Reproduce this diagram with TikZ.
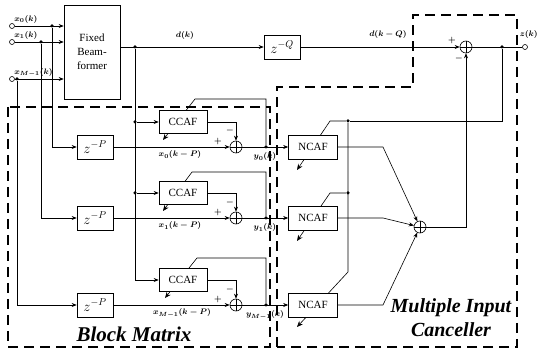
\documentclass[tikz,border=0pt]{standalone}
\usepackage{fontspec}
\setmainfont{Liberation Serif}
\usetikzlibrary{arrows.meta, backgrounds}

\begin{document}
\begin{tikzpicture}[
  x=1pt, y=-1pt,
  line width=0.6pt,
  font=\fontsize{11}{13}\selectfont,
  blk/.style={draw, fill=white, minimum width=48pt, minimum height=23pt, inner sep=0pt},
  dly/.style={draw, fill=white, minimum width=36pt, minimum height=24pt, inner sep=0pt, font=\fontsize{14}{14}\selectfont},
  sum/.style={circle, draw, fill=white, minimum size=12pt, inner sep=0pt,
    path picture={\draw (path picture bounding box.north) -- (path picture bounding box.south)
                        (path picture bounding box.west) -- (path picture bounding box.east);}},
  dot/.style={circle, fill, inner sep=0pt, minimum size=3.5pt},
  term/.style={circle, draw, fill=white, inner sep=0pt, minimum size=5pt},
  arr/.style={-{Stealth[length=5pt, width=4pt]}},
  adapt/.style={line width=0.6pt, -{Stealth[length=6pt, width=5pt]}},
  region/.style={dash pattern=on 10pt off 6pt, line width=2pt},
  lbl/.style={font=\fontsize{8}{8}\selectfont\boldmath, inner sep=1pt},
  sgn/.style={font=\fontsize{8}{8}\selectfont\boldmath, inner sep=0pt},
  title/.style={font=\fontsize{21}{24}\selectfont\bfseries\itshape, align=center, inner sep=0pt}
]
\useasboundingbox (0,0) rectangle (539,355);

% inputs and beamformer
\node[term] (in0) at (12,26) {};
\node[term] (in1) at (12,42) {};
\node[term] (in2) at (12,79) {};
\node[lbl, anchor=south west] (lx0) at (13,25) {$x_0(k)$};
\node[lbl, anchor=south west] (lx1) at (13,41) {$x_1(k)$};
\node[lbl, anchor=south west] (lx2) at (13,78) {$x_{M-1}(k)$};
\node[draw, fill=white, minimum width=56pt, minimum height=94pt, align=center,
      font=\fontsize{11}{14}\selectfont] (fbf) at (92,52) {Fixed\\Beam-\\former};
\node[dly] (zq) at (282,47) {$z^{-Q}$};
\node[dly] (zp0) at (95,147) {$z^{-P}$};
\node[dly] (zp1) at (95,218) {$z^{-P}$};
\node[dly] (zp2) at (95,305) {$z^{-P}$};

% block matrix
\node[blk] (ccaf0) at (183,122) {CCAF};
\node[blk] (ccaf1) at (183,193) {CCAF};
\node[blk] (ccaf2) at (183,280) {CCAF};
\node[sum] (s0) at (236,147) {};
\node[sum] (s1) at (236,218) {};
\node[sum] (s2) at (236,305) {};

% canceller
\node[blk, minimum width=49pt, minimum height=24pt] (ncaf0) at (313,147) {NCAF};
\node[blk, minimum width=49pt, minimum height=24pt] (ncaf1) at (313,218) {NCAF};
\node[blk, minimum width=49pt, minimum height=24pt] (ncaf2) at (313,305) {NCAF};
\node[sum] (ns) at (420,227) {};
\node[sum] (fs) at (466,47) {};
\node[term] (out) at (525,47) {};

% taps
\node[dot] (t0) at (52,26) {};
\node[dot] (t1) at (41,42) {};
\node[dot] (t2) at (17,79) {};
\node[dot] (td) at (135,47) {};
\node[dot] (ct0) at (135,122) {};
\node[dot] (ct1) at (135,193) {};
\coordinate (ct2) at (135,280);
\node[dot] (y0) at (266,147) {};
\node[dot] (y1) at (266,218) {};
\node[dot] (y2) at (266,305) {};
\node[dot] (e0) at (348,121) {};
\node[dot] (e1) at (348,193) {};
\node[dot] (zt) at (502,47) {};
\coordinate (fo) at (fbf.east |- td);
\coordinate (f0) at (195,99);
\coordinate (f1) at (192,172);
\coordinate (f2) at (197,258);
\coordinate (a0) at (163,140);
\coordinate (a1) at (163,211);
\coordinate (a2) at (165,298);
\coordinate (g0) at (330,121);
\coordinate (g1) at (330,193);
\coordinate (g2) at (348,272);
\coordinate (b0) at (297,170);
\coordinate (b1) at (297,241);
\coordinate (b2) at (297,327);
\coordinate (k0) at (383,147);
\coordinate (k1) at (383,218);
\coordinate (k2) at (383,305);

% labels
\node[lbl] (ld) at (185,36) {$d(k)$};
\node[lbl] (ldq) at (388,35) {$d(k-Q)$};
\node[lbl, anchor=east] (lz) at (539,35) {$z(k)$};
\node[lbl] (lxp0) at (180,155) {$x_0(k-P)$};
\node[lbl] (lxp1) at (180,226) {$x_1(k-P)$};
\node[lbl] (lxp2) at (182,313) {$x_{M-1}(k-P)$};
\node[lbl] (ly0) at (265,157) {$y_0(k)$};
\node[lbl] (ly1) at (265,228) {$y_1(k)$};
\node[lbl] (ly2) at (265,315) {$y_{M-1}(k)$};
\node[sgn] (p0) at (218,142) {$+$};
\node[sgn] (p1) at (218,213) {$+$};
\node[sgn] (p2) at (218,300) {$+$};
\node[sgn] (m0) at (230,131) {$-$};
\node[sgn] (m1) at (230,203) {$-$};
\node[sgn] (m2) at (230,290) {$-$};
\node[sgn] (pf) at (452,41) {$+$};
\node[sgn] (mf) at (459,59) {$-$};
\node[title] (bm) at (134,334) {Block Matrix};
\node[title, font=\fontsize{20}{24}\selectfont\bfseries\itshape] (mic) at (451,318) {Multiple Input\\Canceller};

% signal paths
\draw[arr] (in0) -- (in0 -| fbf.west);
\draw[arr] (in1) -- (in1 -| fbf.west);
\draw[arr] (in2) -- (in2 -| fbf.west);
\draw[arr] (t0) |- (zp0);
\draw[arr] (t1) |- (zp1);
\draw[arr] (t2) |- (zp2);
\draw[arr] (fo) -- (zq);
\draw[arr] (zq) -- (fs);
\draw (fs) -- (out);
\draw (td) -- (ct2);
\draw[arr] (ct0) -- (ccaf0);
\draw[arr] (ct1) -- (ccaf1);
\draw[arr] (ct2) -- (ccaf2);
\draw[arr] (zp0) -- (s0);
\draw[arr] (zp1) -- (s1);
\draw[arr] (zp2) -- (s2);
\draw[arr] (ccaf0) -| (s0);
\draw[arr] (ccaf1) -| (s1);
\draw[arr] (ccaf2) -| (s2);
\draw[arr] (s0) -- (ncaf0);
\draw[arr] (s1) -- (ncaf1);
\draw[arr] (s2) -- (ncaf2);
\draw[arr] (ncaf0) -- (k0) -- (ns);
\draw[arr] (ncaf1) -- (k1) -- (ns);
\draw[arr] (ncaf2) -- (k2) -- (ns);
\draw[arr] (ns) -| (fs);
\draw (zt) |- (e0);

\begin{pgfonlayer}{background}
  % adaptation paths
  \draw[adapt] (y0) |- (f0) -- (a0);
  \draw[adapt] (y1) |- (f1) -- (a1);
  \draw[adapt] (y2) |- (f2) -- (a2);
  \draw[adapt] (e0) -- (g0) -- (b0);
  \draw[adapt] (e1) -- (g1) -- (b1);
  \draw[adapt] (e0) -- (g2) -- (b2);
  % regions
  \draw[region] (8,107) rectangle (270,347);
  \draw[region] (277,347) -- (277,87) -- (413,87) -- (413,15) -- (517,15) -- (517,347) -- cycle;
\end{pgfonlayer}
\end{tikzpicture}
\end{document}
